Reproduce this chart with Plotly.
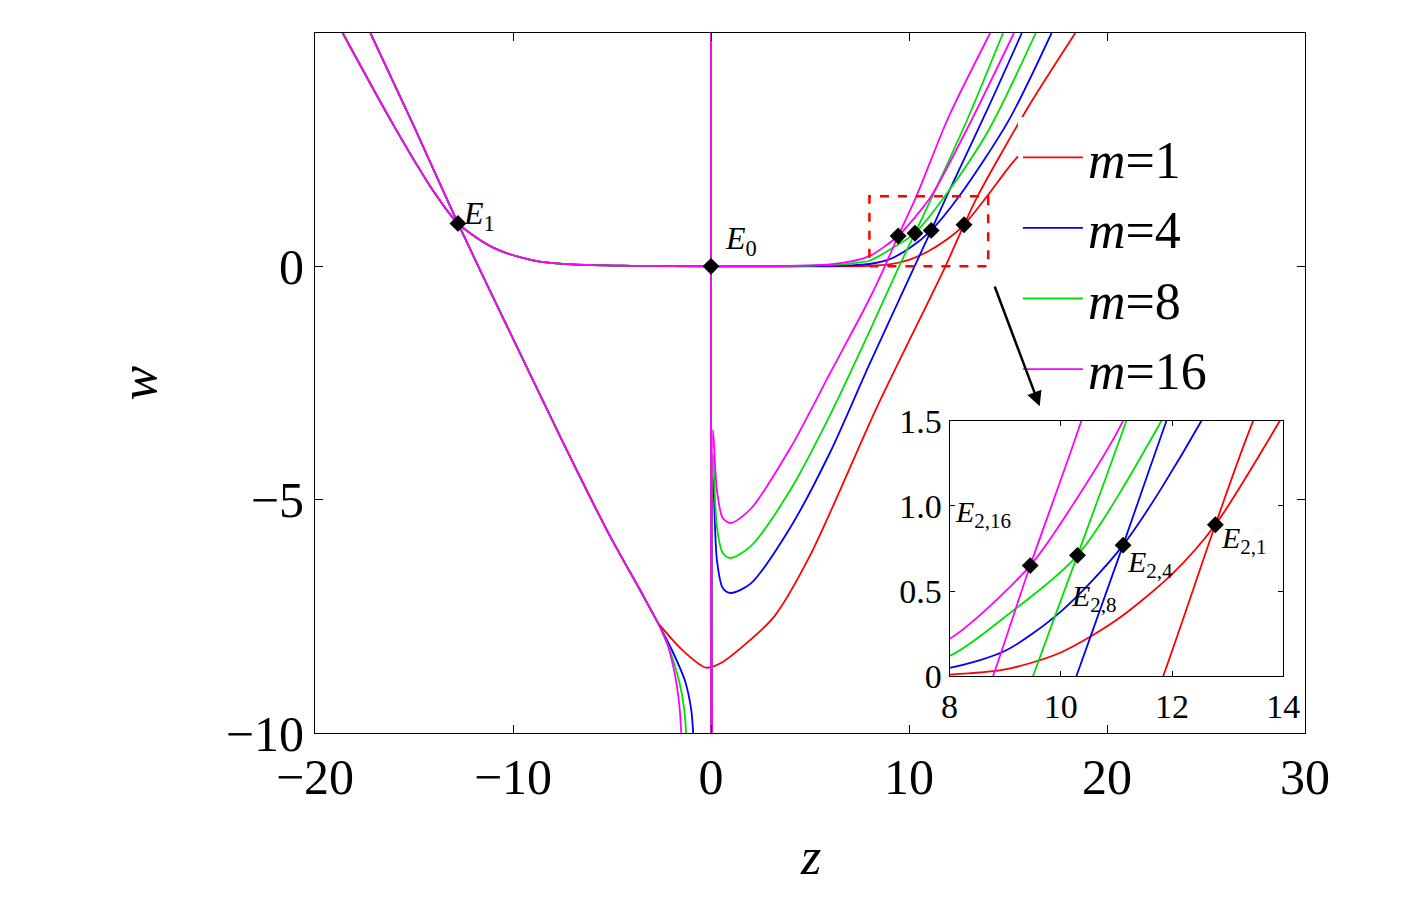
import plotly.graph_objects as go

# shared branch left of origin (all m overlap)
left_flat_z = [-18.6, -16, -14, -12.78, -11, -9, -7, -4, 0]
left_flat_w = [5, 3.0, 1.6, 0.92, 0.4, 0.13, 0.04, 0.01, 0]
desc_z = [-17.2, -15, -12.78, -10, -7.5, -5.2, -3.5, -2.68]
desc_w = [5, 3.0, 0.92, -1.55, -3.75, -5.7, -7.0, -7.64]

# m=16
m16_flat_z = [0, 4, 6, 7, 8, 9.45, 10.3, 11.12, 13, 15.3]
m16_flat_w = [0, 0.01, 0.04, 0.1, 0.22, 0.65, 1.05, 1.5, 3.0, 5]
m16_steep_z = [0.05, 0.1, 0.3, 0.6, 1.0, 2, 4, 6, 8, 8.78, 9.45, 10.37, 12, 14.1]
m16_steep_w = [-10, -3.5, -4.8, -5.4, -5.5, -5.2, -3.9, -2.3, -0.7, 0, 0.65, 1.5, 3.2, 5]
m16_down_z = [-2.68, -2.2, -1.8, -1.6, -1.5]
m16_down_w = [-7.64, -8.1, -8.8, -9.4, -10]

# m=8
m8_flat_z = [0, 4, 6, 7, 8, 9, 10.3, 11.81, 14, 16.4]
m8_flat_w = [0, 0.005, 0.03, 0.06, 0.12, 0.35, 0.71, 1.5, 2.9, 5]
m8_steep_z = [0.05, 0.1, 0.3, 0.6, 1.0, 2, 4, 6, 8, 9.5, 10.3, 11.18, 13, 14.75]
m8_steep_w = [-10, -4, -5.6, -6.15, -6.25, -6.0, -4.8, -3.2, -1.4, 0, 0.71, 1.5, 3.2, 5]
m8_down_z = [-2.68, -2.1, -1.6, -1.35, -1.26]
m8_down_w = [-7.64, -8.2, -8.9, -9.5, -10]

# m=4
m4_flat_z = [0, 4, 6, 7, 8, 9, 10, 11.12, 12.53, 15, 17.2]
m4_flat_w = [0, 0.0, 0.01, 0.02, 0.05, 0.15, 0.38, 0.77, 1.5, 3.1, 5]
m4_steep_z = [0.05, 0.1, 0.3, 0.6, 1.0, 2, 4, 6, 8, 10.28, 11.12, 11.9, 14, 15.7]
m4_steep_w = [-10, -4.5, -6.3, -6.9, -7.0, -6.8, -5.6, -4.0, -2.1, 0, 0.77, 1.5, 3.4, 5]
m4_down_z = [-2.68, -2.0, -1.3, -1.0, -0.9]
m4_down_w = [-7.64, -8.2, -8.9, -9.5, -10]

# m=1
m1_flat_z = [0, 4, 6, 8, 9, 10, 11, 12, 12.78, 13.94, 15, 15.6]
m1_flat_w = [0, 0, 0, 0.01, 0.04, 0.14, 0.33, 0.6, 0.89, 1.5, 2.1, 2.4]
m1_steep_z = [-2.68, -1.5, -0.25, 0.5, 2, 3.2, 5, 8.4, 11.84, 12.78, 13.46, 16, 18.4]
m1_steep_w = [-7.64, -8.2, -8.6, -8.5, -8.0, -7.5, -6.2, -3.0, 0, 0.89, 1.5, 3.4, 5]

vert_z = [0, 0]
vert_w = [-10, 5]

pts_z = [0, -12.78, 9.45, 10.3, 11.12, 12.78]
pts_w = [0, 0.92, 0.65, 0.71, 0.77, 0.89]

series = [
    ("<i>m</i>=1", "#ff0000", [(m1_flat_z, m1_flat_w), (m1_steep_z, m1_steep_w)]),
    ("<i>m</i>=4", "#0000ff", [(m4_flat_z, m4_flat_w), (m4_steep_z, m4_steep_w), (m4_down_z, m4_down_w)]),
    ("<i>m</i>=8", "#00e000", [(m8_flat_z, m8_flat_w), (m8_steep_z, m8_steep_w), (m8_down_z, m8_down_w)]),
    ("<i>m</i>=16", "#ff00ff", [(m16_flat_z, m16_flat_w), (m16_steep_z, m16_steep_w), (m16_down_z, m16_down_w)]),
]

fig = go.Figure()
for name, col, parts in series:
    parts = [(left_flat_z, left_flat_w), (desc_z, desc_w), (vert_z, vert_w)] + parts
    for ax in ["", "2"]:
        for i, (zz, ww) in enumerate(parts):
            fig.add_trace(go.Scatter(x=zz, y=ww, mode="lines", line=dict(color=col, width=1.8, shape="spline", smoothing=0.8),
                                     name=name, legendgroup=name, showlegend=(ax == "" and i == 0),
                                     xaxis="x" + ax, yaxis="y" + ax, hoverinfo="skip"))

fig.add_trace(go.Scatter(x=pts_z, y=pts_w, mode="markers", marker=dict(symbol="diamond", color="black", size=13),
                         showlegend=False))
fig.add_trace(go.Scatter(x=pts_z[2:], y=pts_w[2:], mode="markers", marker=dict(symbol="diamond", color="black", size=13),
                         showlegend=False, xaxis="x2", yaxis="y2"))

serif = "Liberation Serif"
axis_common = dict(showline=True, linecolor="black", linewidth=1.2, mirror="ticks", ticks="inside",
                   tickcolor="black", showgrid=False, zeroline=False, automargin=False)

fig.update_layout(
    width=1417, height=905, plot_bgcolor="white", paper_bgcolor="white",
    margin=dict(l=307, r=120, t=25, b=180),
    font=dict(family=serif, color="black"),
    xaxis=dict(range=[-20, 30], tickvals=[-20, -10, 0, 10, 20, 30],
               ticktext=["\u221220", "\u221210", "0", "10", "20", "30"], tickfont=dict(size=50), ticklen=8, **axis_common),
    yaxis=dict(range=[-10, 5], tickvals=[-10, -5, 0, 5], ticktext=["\u221210", "\u22125", "0", "5"],
               tickfont=dict(size=50), ticklen=8, **axis_common),
    xaxis2=dict(domain=[0.641, 0.978], anchor="y2", range=[8, 14], tickvals=[8, 10, 12, 14],
                tickfont=dict(size=34), ticklen=5, **axis_common),
    yaxis2=dict(domain=[0.081, 0.446], anchor="x2", range=[0, 1.5], tickvals=[0, 0.5, 1.0, 1.5],
                ticktext=["0", "0.5", "1.0", "1.5"], tickfont=dict(size=34), ticklen=5, **axis_common),
    legend=dict(x=0.71, y=0.88, xanchor="left", yanchor="top", bgcolor="white",
                font=dict(size=52, family=serif), tracegroupgap=0, itemwidth=60),
    showlegend=True,
)

# inset highlight box and arrow
fig.add_shape(type="rect", x0=8, x1=14, y0=0, y1=1.5, xref="x", yref="y",
              line=dict(color="red", width=2.5, dash="dash"))
fig.add_annotation(x=16.6, y=-3.0, ax=14.3, ay=-0.4, xref="x", yref="y", axref="x", ayref="y",
                   showarrow=True, arrowhead=2, arrowsize=1.2, arrowwidth=2.5, arrowcolor="black", text="")

labels = [
    ("x", "y", -11.7, 1.1, "<i>E</i><sub>1</sub>", 32),
    ("x", "y", 1.5, 0.55, "<i>E</i><sub>0</sub>", 32),
    ("x2", "y2", 8.6, 0.95, "<i>E</i><sub>2,16</sub>", 30),
    ("x2", "y2", 10.6, 0.46, "<i>E</i><sub>2,8</sub>", 30),
    ("x2", "y2", 11.6, 0.66, "<i>E</i><sub>2,4</sub>", 30),
    ("x2", "y2", 13.3, 0.8, "<i>E</i><sub>2,1</sub>", 30),
]
for xr, yr, xx, yy, t, s in labels:
    fig.add_annotation(x=xx, y=yy, xref=xr, yref=yr, text=t, showarrow=False,
                       font=dict(size=s, family=serif))

fig.add_annotation(x=0.5, y=-0.22, xref="paper", yref="paper", text="<i>z</i>", showarrow=False,
                   font=dict(size=52, family=serif))
fig.add_annotation(x=-0.21, y=0.5, xref="paper", yref="paper", text="<i>w</i>", showarrow=False, textangle=-90,
                   font=dict(size=52, family=serif))

fig.write_html("out.html")
